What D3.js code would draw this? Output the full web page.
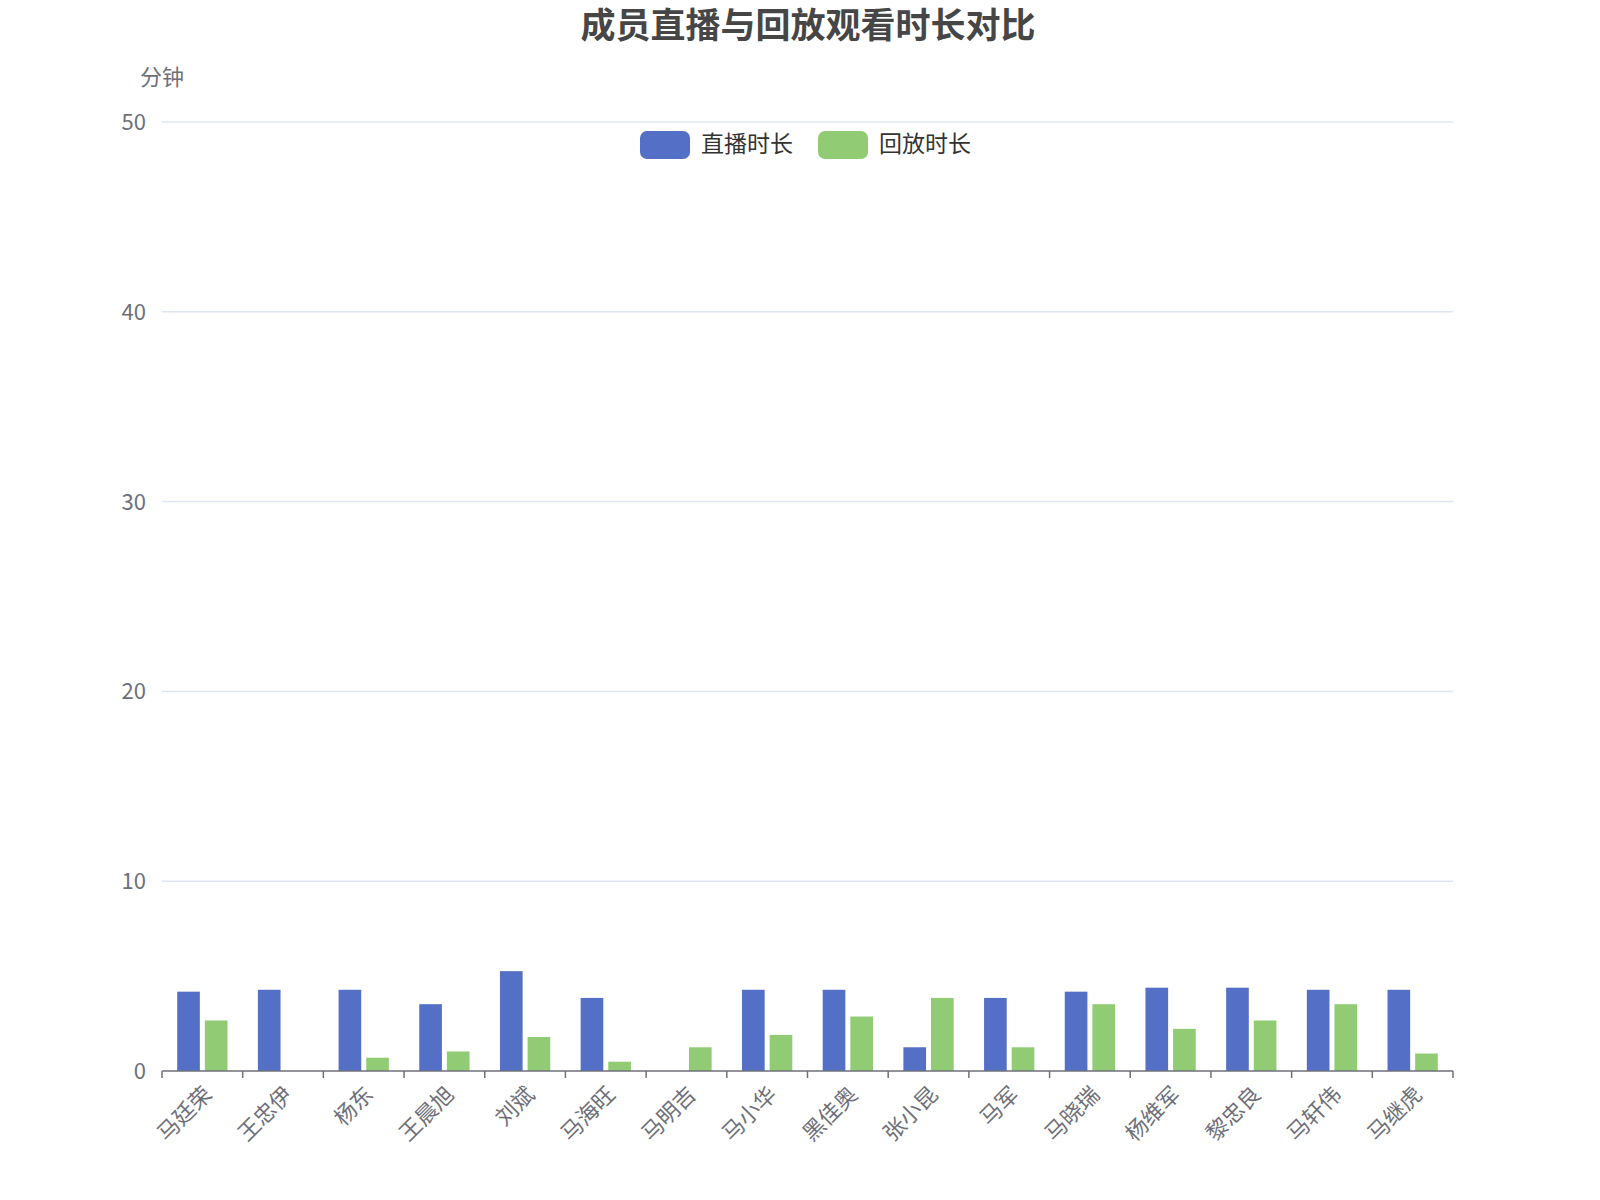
<!DOCTYPE html>
<html><head><meta charset="utf-8">
<script src="https://cdn.jsdelivr.net/npm/d3@7/dist/d3.min.js"></script>
<style>body{margin:0;background:#fff;font-family:"Noto Sans CJK SC","Noto Sans",sans-serif;}</style>
</head><body><svg id="c" width="1600" height="1200"></svg>
<script>
var members = ["马廷荣","王忠伊","杨东","王晨旭","刘斌","马海旺","马明吉","马小华","黑佳奥","张小昆","马军","马晓瑞","杨维军","黎忠良","马轩伟","马继虎"];
var liveMinutes = [4.18,4.28,4.28,3.52,5.26,3.85,0,4.28,4.28,1.25,3.85,4.18,4.39,4.39,4.28,4.28];
var replayMinutes = [2.66,0,0.7,1.03,1.79,0.49,1.25,1.9,2.87,3.85,1.25,3.52,2.22,2.66,3.52,0.92];
var yTicks = [0,10,20,30,40,50];
var seriesNames = ["直播时长","回放时长"];
var colors = ["#5470c6","#91cc75"];

var svg = d3.select("#c");
var plotLeft = 162, plotRight = 1453, plotTop = 122, plotBottom = 1071;
var x = d3.scaleBand().domain(members).range([plotLeft, plotRight]);
var y = d3.scaleLinear().domain([0,50]).range([plotBottom, plotTop]);
var inner = d3.scaleBand().domain([0,1]).range([0, x.bandwidth()]).paddingInner(0.18).paddingOuter(0.55);

svg.append("text").attr("x",808).attr("y",38).attr("text-anchor","middle")
  .attr("font-size",35).attr("font-weight","bold").attr("fill","#464646").text("成员直播与回放观看时长对比");
svg.append("text").attr("x",162).attr("y",85).attr("text-anchor","middle")
  .attr("font-size",22).attr("fill","#6e7079").text("分钟");

svg.selectAll(".grid").data(yTicks.slice(1)).enter().append("line")
  .attr("x1",plotLeft).attr("x2",plotRight).attr("y1",d=>y(d)).attr("y2",d=>y(d))
  .attr("stroke","#e0e6f1").attr("stroke-width",1.5);
svg.selectAll(".yl").data(yTicks).enter().append("text")
  .attr("x",146).attr("y",d=>y(d)+8).attr("text-anchor","end")
  .attr("font-size",22).attr("fill","#6e7079").text(d=>d);

[liveMinutes, replayMinutes].forEach(function(vals, s){
  svg.selectAll(".b"+s).data(vals).enter().append("rect")
    .attr("x",(d,i)=>x(members[i])+inner(s)).attr("width",inner.bandwidth())
    .attr("y",d=>y(d)).attr("height",d=>plotBottom-y(d)).attr("fill",colors[s]);
});

var xa = svg.append("g").attr("transform","translate(0,"+plotBottom+")");
xa.append("line").attr("x1",plotLeft).attr("x2",plotRight).attr("stroke","#6e7079").attr("stroke-width",1.5);
var ticks = members.map(m=>x(m)).concat([plotRight]);
xa.selectAll(".t").data(ticks).enter().append("line")
  .attr("x1",d=>d).attr("x2",d=>d).attr("y1",0).attr("y2",7).attr("stroke","#6e7079").attr("stroke-width",1.5);
xa.selectAll(".xl").data(members).enter().append("text")
  .attr("transform",d=>"translate("+(x(d)+x.bandwidth()/2)+",14) rotate(-45)")
  .attr("text-anchor","end").attr("dy","0.7em").attr("font-size",22).attr("fill","#6e7079").text(d=>d);

var lg = svg.append("g");
var lx = [640, 818];
seriesNames.forEach(function(n,i){
  lg.append("rect").attr("x",lx[i]).attr("y",131).attr("width",50).attr("height",28).attr("rx",7).attr("fill",colors[i]);
  lg.append("text").attr("x",lx[i]+61).attr("y",152).attr("font-size",23).attr("fill","#333").text(n);
});
</script></body></html>
